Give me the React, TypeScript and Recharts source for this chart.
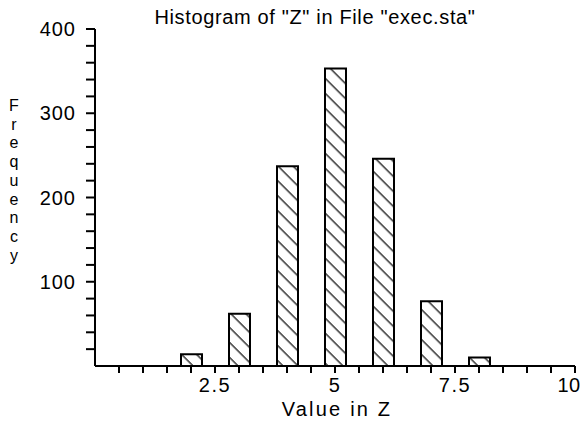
import React from 'react';
import { BarChart, Bar, XAxis, YAxis } from 'recharts';

const binCenters = [2, 3, 4, 5, 6, 7, 8];
const frequencies = [14, 62, 237, 353, 246, 77, 10];
const xTicks = [0.5, 1, 1.5, 2, 2.5, 3, 3.5, 4, 4.5, 5, 5.5, 6, 6.5, 7, 7.5, 8, 8.5, 9, 9.5, 10];
const xTickLabels = [2.5, 5, 7.5, 10];
const yTicks = [20, 40, 60, 80, 100, 120, 140, 160, 180, 200, 220, 240, 260, 280, 300, 320, 340, 360, 380, 400];
const yTickLabels = [100, 200, 300, 400];
const titleText = 'Histogram of "Z" in File "exec.sta"';
const xLabelText = 'Value in Z';
const yLabelText = 'Frequency';

const data = binCenters.map((x, i) => ({ x, freq: frequencies[i] }));

const FONT = "'Liberation Sans', Arial, sans-serif";

const XTick = (props: any) => {
  const { x, y, payload } = props;
  const v = payload.value as number;
  if (!xTickLabels.includes(v)) return null;
  const shift = v === 10 ? -6 : 0;
  return (
    <text x={x + shift} y={y} dy="0.71em" textAnchor="middle" fontSize={20} fontFamily={FONT} letterSpacing={v === 10 ? 0.5 : 1.5} fill="#000">
      {String(v)}
    </text>
  );
};

export default function App() {
  return (
    <div style={{ position: 'absolute', left: 0, top: 0, width: 586, height: 424, background: '#fff' }}>
      <BarChart width={586} height={424} data={data} margin={{ top: 29, right: 11, bottom: 0, left: 0 }}>
        <defs>
          <pattern id="hatch" patternUnits="userSpaceOnUse" width={10.6} height={10.6} patternTransform="rotate(-45)">
            <rect x={0} y={0} width={10.6} height={10.6} fill="#fff" />
            <line x1={5} y1={0} x2={5} y2={10.6} stroke="#000" strokeWidth={1.2} />
          </pattern>
        </defs>
        <XAxis
          type="number"
          dataKey="x"
          domain={[0, 10]}
          allowDataOverflow
          ticks={xTicks}
          interval={0}
          height={58}
          tickSize={7}
          tickMargin={5}
          axisLine={{ stroke: '#000', strokeWidth: 2 }}
          tickLine={{ stroke: '#000', strokeWidth: 2 }}
          tick={<XTick />}
        />
        <YAxis
          type="number"
          domain={[0, 400]}
          allowDataOverflow
          ticks={yTicks}
          interval={0}
          width={95}
          tickSize={9}
          tickMargin={10}
          tickFormatter={(v: number) => (yTickLabels.includes(v) ? String(v) : '')}
          axisLine={{ stroke: '#000', strokeWidth: 2 }}
          tickLine={{ stroke: '#000', strokeWidth: 2 }}
          tick={{ fill: '#000', fontSize: 20, fontFamily: FONT, letterSpacing: 1 }}
        />
        <Bar dataKey="freq" fill="url(#hatch)" stroke="#000" strokeWidth={2} barSize={21} isAnimationActive={false} />
      </BarChart>
      <svg width={586} height={424} style={{ position: 'absolute', left: 0, top: 0, pointerEvents: 'none' }}>
        <text x={315} y={24} textAnchor="middle" fontSize={20} letterSpacing={0.65} fontFamily={FONT} fill="#000">{titleText}</text>
        <text x={337} y={416} textAnchor="middle" fontSize={20} letterSpacing={2.2} fontFamily={FONT} fill="#000">{xLabelText}</text>
        <text x={14} y={111} textAnchor="middle" fontSize={16} fontFamily={FONT} fill="#000">
          {yLabelText.split('').map((ch, i) => (
            <tspan key={i} x={14} dy={i === 0 ? 0 : 18.7}>{ch}</tspan>
          ))}
        </text>
      </svg>
    </div>
  );
}
